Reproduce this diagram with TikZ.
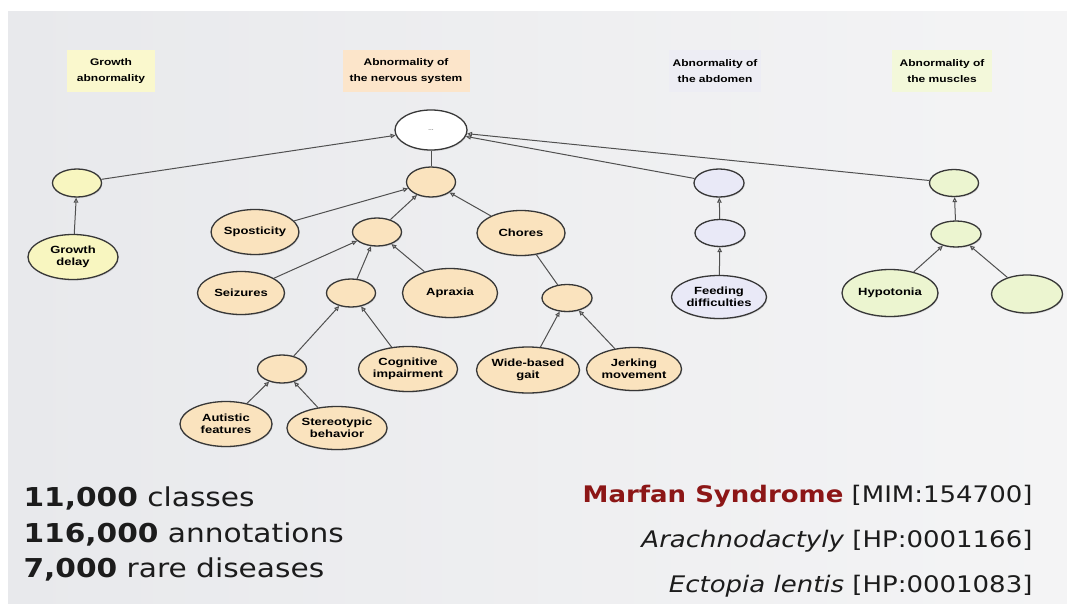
\documentclass[tikz,border=0pt]{standalone}
\usepackage{fontspec}
\newfontfamily\diagfont[FakeStretch=1.25]{Liberation Sans}
\newfontfamily\slidefont[FakeStretch=1.14]{DejaVu Sans}
\usepackage{tikz}
\usetikzlibrary{arrows.meta,shapes,positioning,shadows}
\definecolor{peach}{RGB}{250,227,190}
\definecolor{lemon}{RGB}{248,246,192}
\definecolor{lilac}{RGB}{233,233,247}
\definecolor{mint}{RGB}{236,245,208}
\definecolor{peachbox}{RGB}{252,229,202}
\definecolor{lemonbox}{RGB}{250,248,205}
\definecolor{lilacbox}{RGB}{237,237,244}
\definecolor{mintbox}{RGB}{243,248,218}
\definecolor{edgegray}{RGB}{80,80,80}
\definecolor{rimgray}{RGB}{55,55,55}
\definecolor{marfanred}{RGB}{140,22,22}
\definecolor{inkgray}{RGB}{28,28,28}
\definecolor{slideleft}{RGB}{232,233,236}
\definecolor{slideright}{RGB}{244,244,245}
\tikzset{
    term/.style={draw=rimgray, ellipse, line width=1.3pt, inner sep=0pt, minimum width=49pt, minimum height=28pt, align=center, font=\diagfont\bfseries\fontsize{10.4}{12.5}\selectfont, drop shadow={opacity=0.2, shadow xshift=0.8pt, shadow yshift=-1.2pt}},
    leaf/.style={term, minimum width=93pt, minimum height=45pt},
    isa/.style={-{Triangle[open, length=5pt, width=4.5pt]}, edgegray, line width=1pt},
    link/.style={edgegray, line width=1pt},
    category/.style={minimum width=88pt, minimum height=42pt, align=center, font=\diagfont\bfseries\fontsize{9.6}{16}\selectfont},
    stat/.style={anchor=base west, font=\slidefont\fontsize{26}{30}\selectfont, text=inkgray},
    disease/.style={anchor=base east, font=\slidefont\fontsize{22.8}{28}\selectfont, text=inkgray}
}

\begin{document}
\begin{tikzpicture}[x=1pt, y=-1pt]
    \useasboundingbox (0,0) rectangle (1067,604);
    \fill[white] (0,0) rectangle (1067,604);
    \shade[left color=slideleft, right color=slideright] (8,12) rectangle (1067,604);

    % category headings
    \node[category, fill=lemonbox] (catgrowth) at (111,71) {Growth\\abnormality};
    \node[category, fill=peachbox, minimum width=127pt] (catnerv) at (406,71) {Abnormality of\\the nervous system};
    \node[category, fill=lilacbox, minimum width=92pt] (catabd) at (715,71) {Abnormality of\\the abdomen};
    \node[category, fill=mintbox, minimum width=100pt] (catmus) at (942,71) {Abnormality of\\the muscles};

    % ontology terms
    \node[term, fill=white, minimum width=72pt, minimum height=40pt] (root) at (431,130) {\textcolor{gray}{\fontsize{5}{5}\selectfont ...}};

    \node[term, fill=lemon] (growth) at (77,183) {};
    \node[leaf, fill=lemon, minimum width=90pt] (growthdelay) at (73,257) {Growth\\delay};

    \node[term, fill=peach, minimum height=30pt] (nerv) at (431,182) {};
    \node[leaf, fill=peach, minimum width=86pt] (spasticity) at (255,232) {Sposticity};
    \node[term, fill=peach] (nervA) at (377,232) {};
    \node[leaf, fill=peach, minimum width=88pt] (chores) at (521,233) {Chores};
    \node[leaf, fill=peach, minimum width=87pt, minimum height=43pt] (seizures) at (241,293) {Seizures};
    \node[term, fill=peach] (nervB) at (351,293) {};
    \node[leaf, fill=peach, minimum width=95pt, minimum height=49pt] (apraxia) at (450,293) {Apraxia};
    \node[term, fill=peach, minimum width=50pt, minimum height=27pt] (nervD) at (567,298) {};
    \node[term, fill=peach] (nervC) at (282,369) {};
    \node[leaf, fill=peach, minimum width=95pt] (cognitive) at (408,369) {Cognitive\\impairment};
    \node[leaf, fill=peach, minimum width=103pt, minimum height=46pt] (widegait) at (528,370) {Wide-based\\gait};
    \node[leaf, fill=peach, minimum width=95pt, minimum height=43pt] (jerking) at (634,369) {Jerking\\movement};
    \node[leaf, fill=peach, minimum width=92pt] (autistic) at (226,424) {Autistic\\features};
    \node[leaf, fill=peach, minimum width=95pt, minimum height=43pt] (stereotypic) at (337,428) {Stereotypic\\behavior};

    \node[term, fill=lilac, minimum width=50pt] (abdA) at (719,183) {};
    \node[term, fill=lilac, minimum width=50pt, minimum height=27pt] (abdB) at (720,233) {};
    \node[leaf, fill=lilac, minimum width=95pt, minimum height=43pt] (feeding) at (719,297) {Feeding\\difficulties};

    \node[term, fill=mint, minimum height=27pt] (musA) at (954,183) {};
    \node[term, fill=mint, minimum width=50pt, minimum height=26pt] (musB) at (956,234) {};
    \node[leaf, fill=mint, minimum width=96pt, minimum height=47pt] (hypotonia) at (890,293) {Hypotonia};
    \node[leaf, fill=mint, minimum width=71pt, minimum height=38pt] (musleaf) at (1027,294) {};

    % is-a links
    \draw[isa] (growth) -- (root);
    \draw[link] (nerv) -- (root);
    \draw[isa] (abdA) -- (root);
    \draw[isa] (musA) -- (root);
    \draw[isa] (growthdelay) -- (growth);
    \draw[isa] (spasticity) -- (nerv);
    \draw[isa] (nervA) -- (nerv);
    \draw[isa] (chores) -- (nerv);
    \draw[isa] (seizures) -- (nervA);
    \draw[isa] (nervB) -- (nervA);
    \draw[isa] (apraxia) -- (nervA);
    \draw[isa] (nervC) -- (nervB);
    \draw[isa] (cognitive) -- (nervB);
    \draw[isa] (autistic) -- (nervC);
    \draw[isa] (stereotypic) -- (nervC);
    \draw[link] (nervD) -- (chores);
    \draw[isa] (widegait) -- (nervD);
    \draw[isa] (jerking) -- (nervD);
    \draw[isa] (abdB) -- (abdA);
    \draw[isa] (feeding) -- (abdB);
    \draw[isa] (musB) -- (musA);
    \draw[isa] (hypotonia) -- (musB);
    \draw[isa] (musleaf) -- (musB);

    % figures and the example disease
    \node[stat] (classes) at (20,506) {\textbf{11,000} classes};
    \node[stat] (annotations) at (20,542) {\textbf{116,000} annotations};
    \node[stat] (rare) at (20,577) {\textbf{7,000} rare diseases};
    \node[disease] (marfan) at (1036,502) {\textcolor{marfanred}{\textbf{Marfan Syndrome}} [MIM:154700]};
    \node[disease] (arachno) at (1036,547) {\textit{Arachnodactyly} [HP:0001166]};
    \node[disease] (ectopia) at (1036,592) {\textit{Ectopia lentis} [HP:0001083]};
\end{tikzpicture}
\end{document}
